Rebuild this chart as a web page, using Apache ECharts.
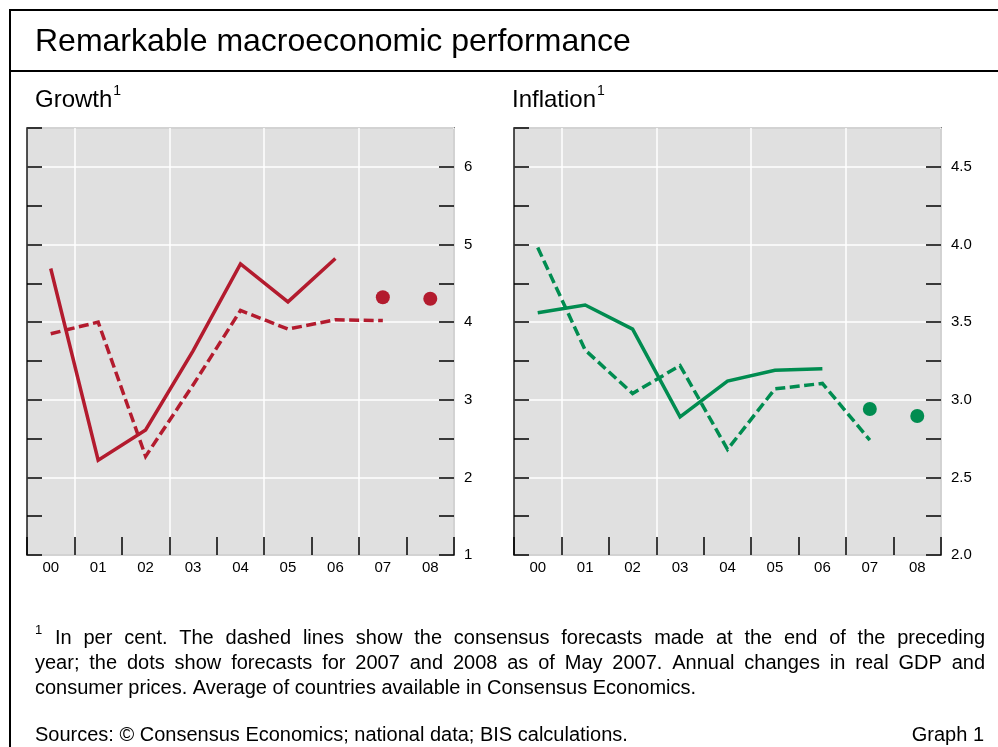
<!DOCTYPE html>
<html><head><meta charset="utf-8">
<script src="https://cdn.jsdelivr.net/npm/echarts@6/dist/echarts.min.js"></script>
<style>html,body{margin:0;padding:0;background:#fff}#c{width:998px;height:747px}</style>
</head><body><div id="c"></div><script>
// ---- data ----
const years = ['00','01','02','03','04','05','06','07','08'];
const growthActual   = [4.69, 2.22, 2.61, 3.63, 4.75, 4.26, 4.82, null, null];
const growthForecast = [3.85, 4.00, 2.27, 3.19, 4.15, 3.91, 4.03, 4.02, null];
const growthDots     = [null, null, null, null, null, null, null, 4.32, 4.30];
const inflActual     = [3.56, 3.61, 3.455, 2.89, 3.12, 3.19, 3.20, null, null];
const inflForecast   = [3.98, 3.32, 3.04, 3.22, 2.68, 3.07, 3.105, 2.74, null];
const inflDots       = [null, null, null, null, null, null, null, 2.94, 2.895];
const growthTicks = {min: 1, max: 6.5, minor: 0.5, major: 1};
const inflTicks   = {min: 2, max: 4.75, minor: 0.25, major: 0.5};

const titleText = 'Remarkable macroeconomic performance';
const footLines = [
  'In per cent. The dashed lines show the consensus forecasts made at the end of the preceding',
  'year; the dots show forecasts for 2007 and 2008 as of May 2007. Annual changes in real GDP and',
  'consumer prices. Average of countries available in Consensus Economics.'
];
const sourcesText = 'Sources: © Consensus Economics; national data; BIS calculations.';
const graphText = 'Graph 1';

const FONT = '"Liberation Sans", Arial, Helvetica, sans-serif';
const RED = '#B31B2E', GREEN = '#008C50';
const FOOT_SIZE = 20;

const chart = echarts.init(document.getElementById('c'), null, {renderer: 'canvas'});

const grids = [
  {left: 27, top: 128, width: 427, height: 427},
  {left: 514, top: 128, width: 427, height: 427}
];

function xAxis(gi) {
  return {
    type: 'category', gridIndex: gi, data: years, boundaryGap: true,
    axisLine: {show: false},
    axisTick: {show: true, inside: true, length: 18, lineStyle: {color: '#000', width: 1.5}},
    axisLabel: {color: '#000', fontSize: 15, fontFamily: FONT, margin: 5},
    splitLine: {show: true, interval: (i) => i % 2 === 1, lineStyle: {color: '#fff', width: 1.5}}
  };
}
function yAxes(gi, t, fmt) {
  return [
    {
      type: 'value', gridIndex: gi, position: 'left', min: t.min, max: t.max, interval: t.minor,
      axisLine: {show: false}, axisLabel: {show: false}, splitLine: {show: false},
      axisTick: {show: true, inside: true, length: 15, lineStyle: {color: '#000', width: 1.5}}
    },
    {
      type: 'value', gridIndex: gi, position: 'right', min: t.min, max: t.max, interval: t.minor,
      axisLine: {show: false}, splitLine: {show: false},
      axisTick: {show: true, inside: true, length: 15, lineStyle: {color: '#000', width: 1.5}},
      axisLabel: {show: true, margin: 10, color: '#000', fontSize: 15, fontFamily: FONT,
        showMaxLabel: false,
        formatter: (v) => (Math.abs(v / t.major - Math.round(v / t.major)) < 1e-6 ? fmt(v) : '')}
    },
    {
      type: 'value', gridIndex: gi, position: 'right', min: t.min, max: t.max, interval: t.major,
      axisLine: {show: false}, axisTick: {show: false}, axisLabel: {show: false},
      splitLine: {show: true, lineStyle: {color: '#fff', width: 1.5}}
    }
  ];
}

function lineSeries(xi, yi, data, color, dashed) {
  return {
    type: 'line', xAxisIndex: xi, yAxisIndex: yi, data: data, symbol: 'none',
    connectNulls: false, silent: true, animation: false, z: dashed ? 3 : 4,
    lineStyle: {color: color, width: 3.5, type: dashed ? [10, 4.5] : 'solid', cap: 'butt', join: 'miter'}
  };
}
function dotSeries(xi, yi, data, color) {
  return {
    type: 'scatter', xAxisIndex: xi, yAxisIndex: yi, data: data, symbol: 'circle', symbolSize: 14,
    itemStyle: {color: color, opacity: 1}, silent: true, animation: false, z: 5
  };
}

function textEl(x, y, text, size, align) {
  return {type: 'text', silent: true, z: 10,
    style: {x: x, y: y, text: text, fill: '#000', font: size + 'px ' + FONT,
      textAlign: align || 'left', textVerticalAlign: 'middle'}};
}
// justified line: spaces replaced by fixed-width rich gaps
const measureCtx = document.createElement('canvas').getContext('2d');
function justifiedEl(x, y, text, size, targetWidth) {
  measureCtx.font = size + 'px ' + FONT;
  const words = text.split(' ');
  const wordsW = words.reduce((s, w) => s + measureCtx.measureText(w).width, 0);
  const gap = (targetWidth - wordsW) / (words.length - 1);
  return {type: 'text', silent: true, z: 10,
    style: {x: x, y: y, fill: '#000', font: size + 'px ' + FONT, textVerticalAlign: 'middle',
      text: words.join('{g| }'),
      rich: {g: {width: gap, fontSize: size, fontFamily: FONT}}}};
}
function supTitle(x, y, main, size, supSize) {
  return {type: 'text', silent: true, z: 10,
    style: {x: x, y: y, fill: '#000', textVerticalAlign: 'middle',
      text: '{m|' + main + '}{s|1}',
      rich: {m: {fontSize: size, fontFamily: FONT, lineHeight: size + 4, verticalAlign: 'bottom'},
             s: {fontSize: supSize, fontFamily: FONT, lineHeight: size + 4, verticalAlign: 'top', padding: [0, 0, 0, 1]}}}};
}

const option = {
  animation: false,
  backgroundColor: '#fff',
  grid: grids.map(g => Object.assign({show: true, backgroundColor: '#E0E0E0', borderColor: '#1a1a1a', borderWidth: 1.5, containLabel: false}, g)),
  xAxis: [xAxis(0), xAxis(1)],
  yAxis: [].concat(yAxes(0, growthTicks, v => String(v)), yAxes(1, inflTicks, v => v.toFixed(1))),
  series: [
    lineSeries(0, 1, growthForecast, RED, true),
    lineSeries(0, 1, growthActual, RED, false),
    dotSeries(0, 1, growthDots, RED),
    lineSeries(1, 4, inflForecast, GREEN, true),
    lineSeries(1, 4, inflActual, GREEN, false),
    dotSeries(1, 4, inflDots, GREEN)
  ],
  graphic: [
    {type: 'line', silent: true, shape: {x1: 10, y1: 10, x2: 998, y2: 10}, style: {stroke: '#000', lineWidth: 2}},
    {type: 'line', silent: true, shape: {x1: 10, y1: 9, x2: 10, y2: 747}, style: {stroke: '#000', lineWidth: 2}},
    {type: 'line', silent: true, shape: {x1: 10, y1: 71, x2: 998, y2: 71}, style: {stroke: '#000', lineWidth: 2}},
    textEl(35, 42, titleText, 32),
    supTitle(35, 98, 'Growth', 24, 14),
    supTitle(512, 98, 'Inflation', 24, 14),
    textEl(35, 630, '1', 13),
    justifiedEl(55, 638, footLines[0], FOOT_SIZE, 930),
    justifiedEl(35, 663, footLines[1], FOOT_SIZE, 950),
    textEl(35, 688, footLines[2], FOOT_SIZE),
    textEl(35, 735, sourcesText, FOOT_SIZE),
    textEl(984, 735, graphText, FOOT_SIZE, 'right')
  ]
};
chart.setOption(option);
</script></body></html>
